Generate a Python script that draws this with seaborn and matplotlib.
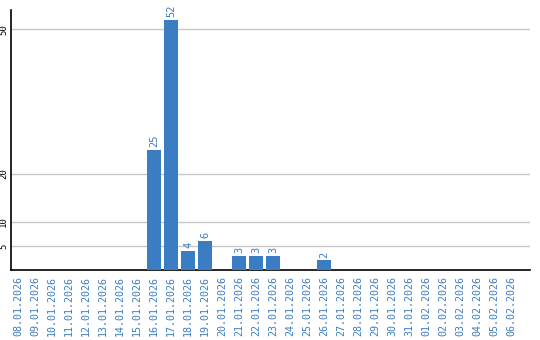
import matplotlib
matplotlib.use("Agg")
import matplotlib.pyplot as plt
import seaborn as sns
import pandas as pd

dates = ["08.01.2026", "09.01.2026", "10.01.2026", "11.01.2026", "12.01.2026",
         "13.01.2026", "14.01.2026", "15.01.2026", "16.01.2026", "17.01.2026",
         "18.01.2026", "19.01.2026", "20.01.2026", "21.01.2026", "22.01.2026",
         "23.01.2026", "24.01.2026", "25.01.2026", "26.01.2026", "27.01.2026",
         "28.01.2026", "29.01.2026", "30.01.2026", "31.01.2026", "01.02.2026",
         "02.02.2026", "03.02.2026", "04.02.2026", "05.02.2026", "06.02.2026"]
counts = [0, 0, 0, 0, 0, 0, 0, 0, 25, 52, 4, 6, 0, 3, 3, 3, 0, 0, 2, 0,
          0, 0, 0, 0, 0, 0, 0, 0, 0, 0]
yticks = [5, 10, 20, 50]

BLUE = "#3b7dc3"
df = pd.DataFrame({"date": dates, "count": counts})

sns.set_style("white")
plt.rcParams['font.family'] = ['DejaVu Sans Mono', 'DejaVu Sans']

fig = plt.figure(figsize=(5.4, 3.4), dpi=100)
ax = fig.add_axes([11/540, 70/340, 519/540, 260/340])

sns.barplot(data=df, x="date", y="count", color=BLUE, width=0.82,
            saturation=1, ax=ax, zorder=3, linewidth=0, edgecolor="none")

ax.set_xlim(-0.41, len(dates) - 1 + 1.12)
ax.set_ylim(0, 54)
ax.set_yticks(yticks)
ax.set_yticklabels([str(v) for v in yticks], rotation=90, va="center",
                   fontsize=6.5, color="black")
ax.tick_params(axis="y", length=0, pad=2)
ax.tick_params(axis="x", length=0, pad=4)
ax.set_xticks(range(len(dates)))
ax.set_xticklabels(dates, rotation=90, fontsize=7.2, color=BLUE, va="top")
ax.grid(axis="y", color="#c8c8c8", linewidth=1, zorder=0)
ax.set_axisbelow(True)
ax.set_xlabel("")
ax.set_ylabel("")

for s in ["top", "right"]:
    ax.spines[s].set_visible(False)
ax.spines["left"].set_color("black")
ax.spines["bottom"].set_color("black")
ax.spines["left"].set_linewidth(1.2)
ax.spines["bottom"].set_linewidth(1.2)

for i, v in enumerate(counts):
    if v > 0:
        ax.annotate(str(v), (i, v), xytext=(0, 2), textcoords="offset points",
                    ha="center", va="bottom", rotation=90, fontsize=7.5,
                    color=BLUE)

fig.savefig("out.png", dpi=100)
